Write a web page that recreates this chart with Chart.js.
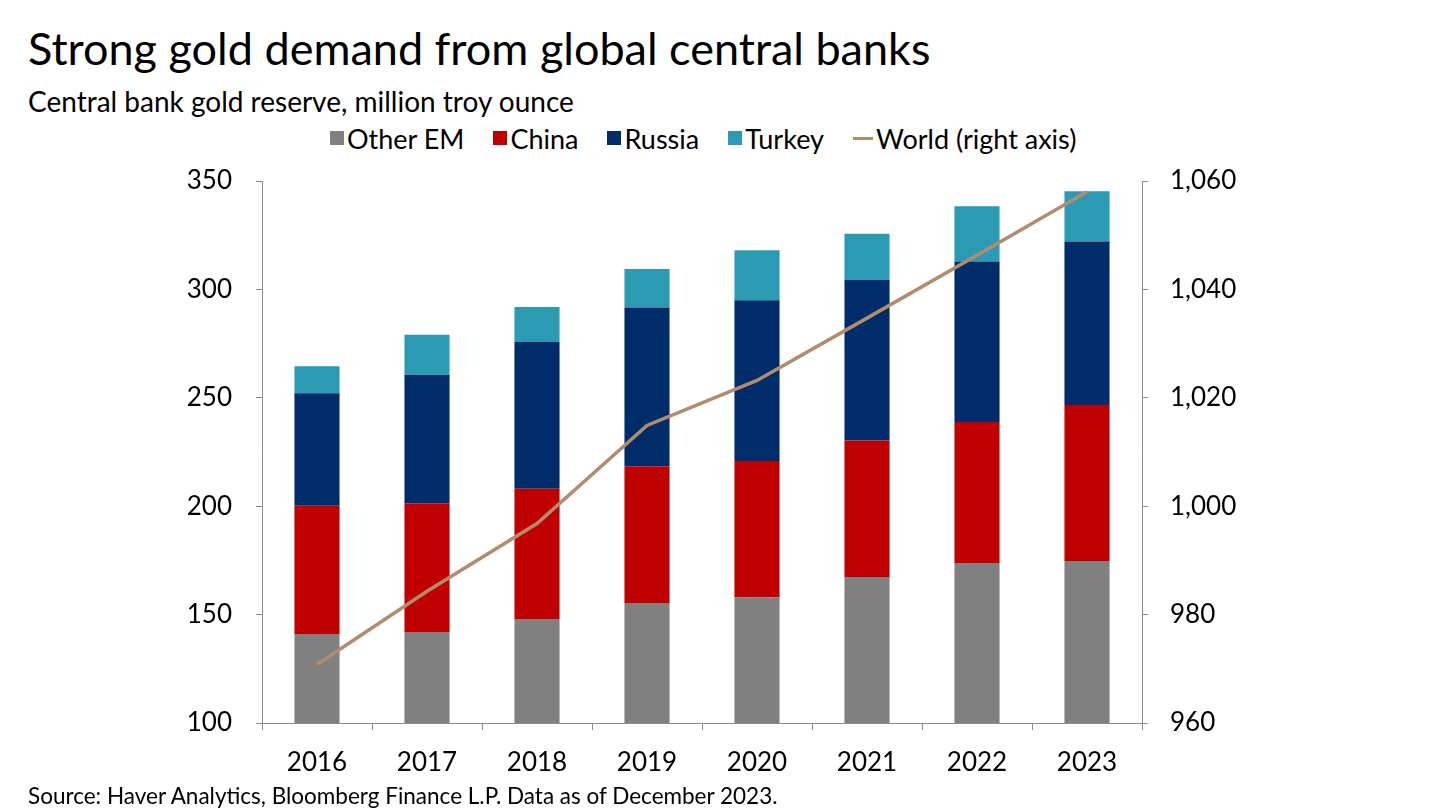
<!DOCTYPE html>
<html>
<head>
<meta charset="utf-8">
<script src="https://cdn.jsdelivr.net/npm/chart.js@4/dist/chart.umd.min.js"></script>
<style>
  html, body { margin: 0; padding: 0; background: #ffffff; }
  body { width: 1440px; height: 810px; position: relative; overflow: hidden; font-family: Lato, "Open Sans", sans-serif; }
  #title { position: absolute; left: 28px; top: 26px; font-size: 45px; line-height: 1; color: #000; white-space: nowrap; }
  #subtitle { position: absolute; left: 28px; top: 87px; font-size: 28px; line-height: 1; color: #000; white-space: nowrap; }
  #source { position: absolute; left: 28px; top: 785px; font-size: 22.5px; line-height: 1; color: #000; white-space: nowrap; }
  #legend { position: absolute; left: 330px; top: 124px; height: 28px; display: flex; align-items: center; font-size: 27px; line-height: 1; color: #000; white-space: nowrap; }
  .item { display: flex; align-items: center; margin-right: 29px; }
  .mark { display: inline-block; margin-right: 3px; }
  #c { position: absolute; left: 0; top: 0; }
</style>
</head>
<body>
<div id="title">Strong gold demand from global central banks</div>
<div id="subtitle">Central bank gold reserve, million troy ounce</div>
<div id="legend"></div>
<canvas id="c" width="1440" height="810"></canvas>
<div id="source">Source: Haver Analytics, Bloomberg Finance L.P. Data as of December 2023.</div>
<script>
const categories = ['2016', '2017', '2018', '2019', '2020', '2021', '2022', '2023'];
const otherEM = [141, 142, 148, 155.4, 158, 167.3, 173.8, 174.7];
const china   = [59.2, 59.4, 60.1, 63, 62.9, 63, 65, 72];
const russia  = [51.9, 59.2, 67.6, 73.2, 74.1, 74.2, 74.1, 75.4];
const turkey  = [12.4, 18.5, 16.2, 17.8, 23.1, 21.2, 25.4, 23.2];
const world   = [970.8, 984.3, 996.8, 1014.9, 1023.2, 1034.7, 1046.3, 1058.0];
const leftTicks = [100, 150, 200, 250, 300, 350];
const rightTicks = [960, 980, 1000, 1020, 1040, 1060];

const axisGray = '#8c8c8c';
const tickFont = { family: 'Lato, "Open Sans", sans-serif', size: 26 };

const barCommon = { barPercentage: 0.82, categoryPercentage: 0.5, borderWidth: 0, yAxisID: 'y', stack: 'em', order: 2 };

const chart = new Chart(document.getElementById('c'), {
  data: {
    labels: categories,
    datasets: [
      Object.assign({ type: 'bar', label: 'Other EM', data: otherEM, backgroundColor: '#808080' }, barCommon),
      Object.assign({ type: 'bar', label: 'China', data: china, backgroundColor: '#C00000' }, barCommon),
      Object.assign({ type: 'bar', label: 'Russia', data: russia, backgroundColor: '#002D69' }, barCommon),
      Object.assign({ type: 'bar', label: 'Turkey', data: turkey, backgroundColor: '#2B9BB4' }, barCommon),
      { type: 'line', label: 'World (right axis)', data: world, yAxisID: 'y1', stack: 'w', order: 0,
        borderColor: '#B38B6D', backgroundColor: '#B38B6D', borderWidth: 3.5, pointRadius: 0, tension: 0, fill: false }
    ]
  },
  options: {
    responsive: false,
    animation: false,
    devicePixelRatio: 1,
    layout: { padding: { left: 28, right: 46, top: 181, bottom: 0 } },
    plugins: {
      title: { display: false },
      tooltip: { enabled: false },
      legend: { display: false }
    },
    scales: {
      x: {
        stacked: true,
        offset: true,
        grid: { display: true, offset: true, drawOnChartArea: false, drawTicks: true, tickLength: 7, color: axisGray },
        border: { display: true, color: axisGray, width: 1 },
        ticks: { color: '#000', font: tickFont, padding: 17, maxRotation: 0 },
        afterFit(s) { s.height = 87; }
      },
      y: {
        type: 'linear',
        position: 'left',
        stacked: true,
        min: 100, max: 350,
        afterBuildTicks(s) { s.ticks = leftTicks.map(v => ({ value: v })); },
        grid: { display: true, drawOnChartArea: false, drawTicks: true, tickLength: 6, color: axisGray },
        border: { display: true, color: axisGray, width: 1 },
        ticks: { color: '#000', font: tickFont, padding: 24 },
        afterFit(s) { s.width = 234; }
      },
      y1: {
        type: 'linear',
        position: 'right',
        min: 960, max: 1060,
        afterBuildTicks(s) { s.ticks = rightTicks.map(v => ({ value: v })); },
        grid: { display: true, drawOnChartArea: false, drawTicks: true, tickLength: 6, color: axisGray },
        border: { display: true, color: axisGray, width: 1 },
        ticks: { color: '#000', font: tickFont, padding: 22, callback: v => v.toLocaleString('en-US') },
        afterFit(s) { s.width = 252; }
      }
    }
  }
});

// Legend built from the chart's datasets
const legendEl = document.getElementById('legend');
chart.data.datasets.forEach(ds => {
  const item = document.createElement('span');
  item.className = 'item';
  const mark = document.createElement('span');
  mark.className = 'mark';
  if (ds.type === 'line') {
    mark.style.width = '20px'; mark.style.height = '3px'; mark.style.background = ds.borderColor;
  } else {
    mark.style.width = '14px'; mark.style.height = '14px'; mark.style.background = ds.backgroundColor;
  }
  const txt = document.createElement('span');
  txt.textContent = ds.label;
  item.appendChild(mark); item.appendChild(txt);
  legendEl.appendChild(item);
});
</script>
</body>
</html>
